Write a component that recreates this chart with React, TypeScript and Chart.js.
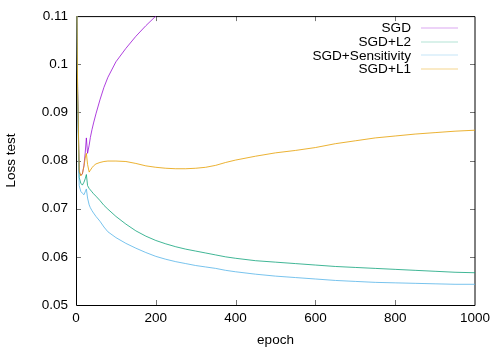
import { useEffect, useRef } from "react";
import { Chart, registerables } from "chart.js";

Chart.register(...registerables);

// ---- data ----
const epochs = [1, 4, 8, 12, 16, 20, 23, 26, 29, 33, 36, 40, 44, 50, 60, 70, 80, 100, 125, 150, 175, 200, 225, 250, 275, 300, 325, 350, 375, 400, 450, 500, 550, 600, 650, 700, 750, 800, 850, 900, 950, 1000];

const sgd = [0.125, 0.095, 0.0775, 0.077, 0.0772, 0.079, 0.0815, 0.0847, 0.0815, 0.0832, 0.0848, 0.0864, 0.0878, 0.0897, 0.0926, 0.0952, 0.0973, 0.1005, 0.1033, 0.1058, 0.108, 0.11, 0.1118, null, null, null, null, null, null, null, null, null, null, null, null, null, null, null, null, null, null, null];

const sgdL2 = [0.125, 0.094, 0.0765, 0.0753, 0.0749, 0.0755, 0.0762, 0.0771, 0.0748, 0.0742, 0.0739, 0.0735, 0.0731, 0.0726, 0.0717, 0.0707, 0.0699, 0.0684, 0.0668, 0.0654, 0.0643, 0.0634, 0.0627, 0.0621, 0.0616, 0.0612, 0.0608, 0.0604, 0.06, 0.0597, 0.0592, 0.0589, 0.0586, 0.0583, 0.058, 0.0578, 0.0576, 0.0574, 0.0572, 0.057, 0.0568, 0.0567];

const sgdSensitivity = [0.125, 0.093, 0.0748, 0.0736, 0.0732, 0.0729, 0.0735, 0.0741, 0.0722, 0.0708, 0.0702, 0.0696, 0.0691, 0.0684, 0.0674, 0.0662, 0.0652, 0.064, 0.0628, 0.0618, 0.0609, 0.0601, 0.0595, 0.059, 0.0586, 0.0582, 0.0579, 0.0576, 0.0572, 0.0569, 0.0564, 0.056, 0.0557, 0.0554, 0.0551, 0.0549, 0.0547, 0.0546, 0.0545, 0.0544, 0.0543, 0.0543];

const sgdL1 = [0.125, 0.095, 0.078, 0.0768, 0.0773, 0.0788, 0.0805, 0.0815, 0.0792, 0.0776, 0.078, 0.0785, 0.0789, 0.0793, 0.0796, 0.0798, 0.0799, 0.0799, 0.0798, 0.0794, 0.0789, 0.0786, 0.0784, 0.0783, 0.0783, 0.0784, 0.0786, 0.079, 0.0796, 0.0801, 0.0809, 0.0816, 0.0821, 0.0827, 0.0835, 0.0841, 0.0847, 0.0851, 0.0855, 0.0858, 0.0861, 0.0863];

const seriesNames = ["SGD", "SGD+L2", "SGD+Sensitivity", "SGD+L1"];
const seriesValues = [sgd, sgdL2, sgdSensitivity, sgdL1];
const seriesColors = ["rgba(148,0,211,0.75)", "rgba(0,158,115,0.75)", "rgba(86,180,233,0.8)", "rgba(230,159,0,0.8)"];
const legendColors = ["rgba(148,0,211,0.35)", "rgba(0,158,115,0.3)", "rgba(86,180,233,0.35)", "rgba(230,159,0,0.45)"];

const xMin = 0, xMax = 1000, xStep = 200;
const yMin = 0.05, yMax = 0.11, yStep = 0.01;
const xTitle = "epoch";
const yTitle = "Loss test";

const FONT = "'Liberation Sans', Arial, Helvetica, sans-serif";
const FONT_SIZE = 13.5;
const LEGEND_FONT_SIZE = 13.6;

const framePlugin = {
  id: "gnuFrame",
  beforeDatasetsDraw(chart: any) {
    const { ctx, chartArea, scales } = chart;
    const { left, right, top, bottom } = chartArea;
    const x = scales.x, y = scales.y;
    const tl = 5;
    ctx.save();
    ctx.lineWidth = 1;
    ctx.strokeStyle = "#777";
    ctx.beginPath();
    x.ticks.forEach((t: any) => {
      const px = Math.round(x.getPixelForValue(t.value)) + 0.5;
      if (px <= left + 1 || px >= right - 1) return;
      ctx.moveTo(px, bottom);
      ctx.lineTo(px, bottom - tl);
      ctx.moveTo(px, top);
      ctx.lineTo(px, top + tl);
    });
    y.ticks.forEach((t: any) => {
      const py = Math.round(y.getPixelForValue(t.value)) + 0.5;
      if (py <= top + 1 || py >= bottom - 1) return;
      ctx.moveTo(left, py);
      ctx.lineTo(left + tl, py);
      ctx.moveTo(right, py);
      ctx.lineTo(right - tl, py);
    });
    ctx.stroke();
    ctx.strokeStyle = "#000";
    ctx.beginPath();
    ctx.moveTo(left + 0.5, top + 0.5);
    ctx.lineTo(left + 0.5, bottom + 0.5);
    ctx.lineTo(right, bottom + 0.5);
    ctx.lineTo(right, top + 0.5);
    ctx.lineTo(left + 0.5, top + 0.5);
    ctx.stroke();
    ctx.restore();
  },
  afterDatasetsDraw(chart: any) {
    const { ctx } = chart;
    const textRight = 411;
    const lineStart = 421;
    const lineEnd = 458;
    const y0 = 28;
    const dy = 13.7;
    ctx.save();
    ctx.font = `${LEGEND_FONT_SIZE}px ${FONT}`;
    ctx.textAlign = "right";
    ctx.textBaseline = "middle";
    seriesNames.forEach((name, i) => {
      const yy = y0 + i * dy;
      ctx.fillStyle = "#000";
      ctx.fillText(name, textRight, yy + 0.5);
      ctx.strokeStyle = legendColors[i];
      ctx.lineWidth = 1;
      ctx.beginPath();
      ctx.moveTo(lineStart, Math.round(yy));
      ctx.lineTo(lineEnd, Math.round(yy));
      ctx.stroke();
    });
    ctx.restore();
  },
};

export default function App() {
  const ref = useRef<HTMLCanvasElement | null>(null);
  useEffect(() => {
    if (!ref.current) return;
    Chart.defaults.font.family = FONT;
    Chart.defaults.font.size = FONT_SIZE;
    Chart.defaults.color = "#000";
    const chart = new Chart(ref.current, {
      type: "line",
      data: {
        datasets: seriesNames.map((name, i) => ({
          label: name,
          data: epochs.map((e, j) => ({ x: e, y: seriesValues[i][j] as any })),
          borderColor: seriesColors[i],
          backgroundColor: seriesColors[i],
          borderWidth: 1,
          pointRadius: 0,
          tension: 0,
          spanGaps: false,
          clip: 0,
          order: seriesNames.length - 1 - i,
        })),
      },
      options: {
        animation: false,
        responsive: false,
        devicePixelRatio: 1,
        layout: { padding: { top: 16, right: 25, left: 0, bottom: 0 } },
        plugins: { legend: { display: false }, tooltip: { enabled: false } },
        scales: {
          x: {
            type: "linear",
            min: xMin,
            max: xMax,
            ticks: {
              stepSize: xStep,
              padding: 5,
              color: "#000",
              maxRotation: 0,
              font: { size: FONT_SIZE },
              callback: (v: any) => String(Number(v)),
            },
            grid: { display: false, drawTicks: false },
            border: { display: false },
            title: { display: true, text: xTitle, color: "#000", padding: { top: 0, bottom: 2 }, font: { size: FONT_SIZE } },
            afterFit: (s: any) => { s.height = 45; },
          },
          y: {
            type: "linear",
            min: yMin,
            max: yMax,
            ticks: {
              stepSize: yStep,
              padding: 8,
              color: "#000",
              font: { size: FONT_SIZE },
              callback: (v: any) => String(Number(Number(v).toFixed(2))),
            },
            grid: { display: false, drawTicks: false },
            border: { display: false },
            title: { display: true, text: yTitle, color: "#000", padding: { top: 3, bottom: 0 }, font: { size: FONT_SIZE } },
            afterFit: (s: any) => { s.width = 76; },
          },
        },
      },
      plugins: [framePlugin],
    });
    return () => chart.destroy();
  }, []);
  return (
    <div style={{ position: "absolute", left: 0, top: 0, width: 500, height: 350, background: "#fff" }}>
      <canvas ref={ref} width={500} height={350} />
    </div>
  );
}
